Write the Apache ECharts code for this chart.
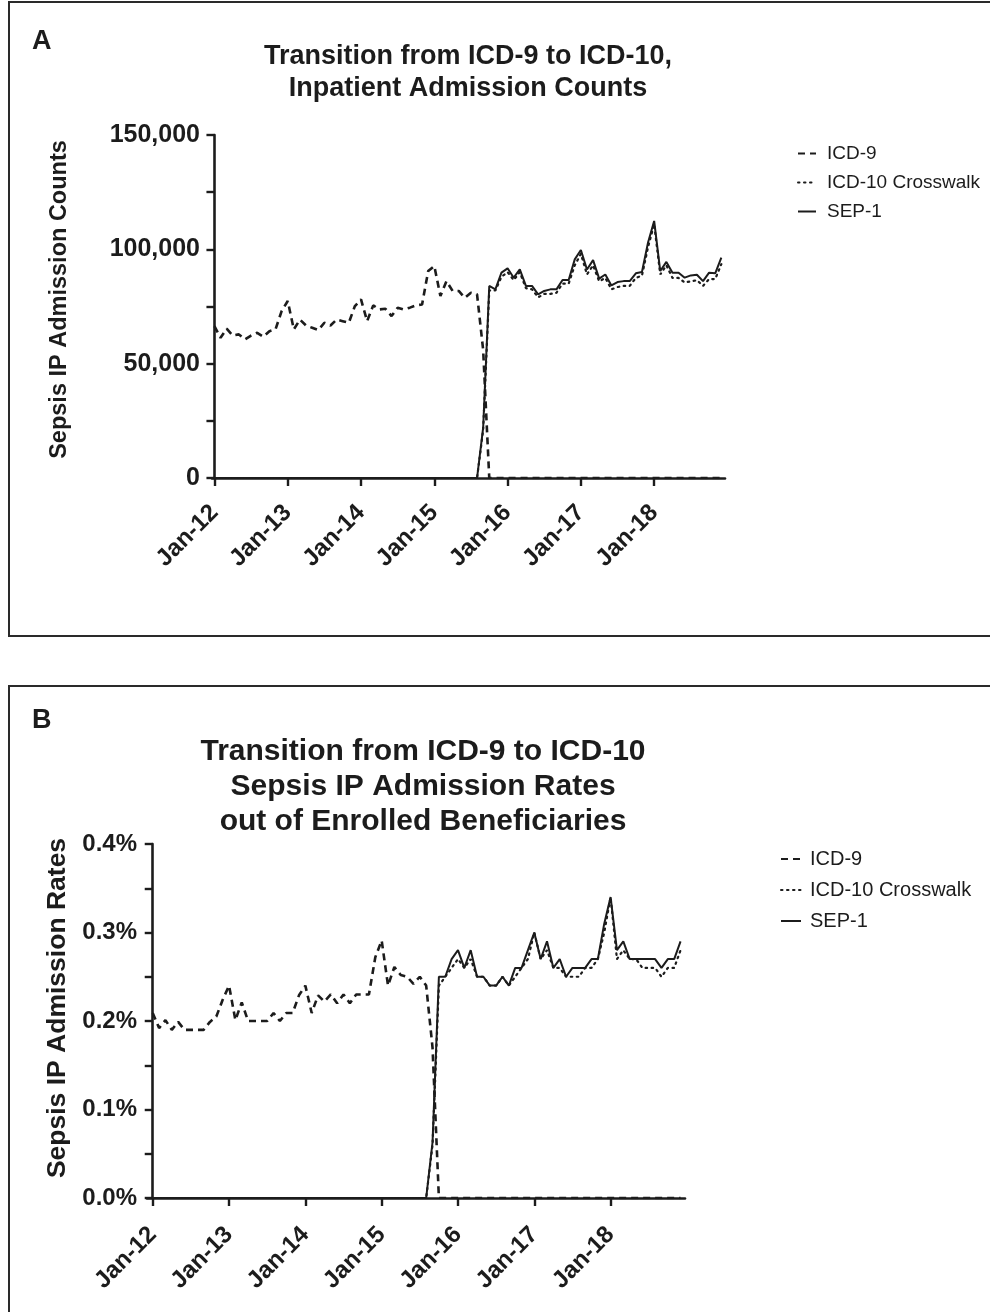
<!DOCTYPE html>
<html>
<head>
<meta charset="utf-8">
<script src="https://cdn.jsdelivr.net/npm/echarts@6/dist/echarts.min.js"></script>
<style>
html,body{margin:0;padding:0;background:#fff;}
#chart{width:990px;height:1312px;}
</style>
</head>
<body>
<div id="chart"></div>
<script>
// ---- Data (monthly, Jan-12 .. Dec-18; index 0 = Jan-12) ----
const tickMonths = [0, 12, 24, 36, 48, 60, 72];
const tickLabels = ['Jan-12', 'Jan-13', 'Jan-14', 'Jan-15', 'Jan-16', 'Jan-17', 'Jan-18'];
const seriesNames = ['ICD-9', 'ICD-10 Crosswalk', 'SEP-1'];

// Panel A: Sepsis IP admission counts
const countsICD9 = [
  66400, 61300, 65300, 62300, 62800, 60600, 62300, 63500, 61800, 64200, 65000, 73000,
  77400, 65000, 69300, 66700, 65700, 64700, 67900, 66700, 69300, 68600, 67900, 75200,
  78100, 68600, 75500, 73700, 74000, 70800, 74500, 73700, 74500, 75500, 75900, 90500,
  92700, 79600, 86100, 81800, 81800, 78800, 81000, 80300, 56000, 0, 0, 0,
  0, 0, 0, 0, 0, 0, 0, 0, 0, 0, 0, 0,
  0, 0, 0, 0, 0, 0, 0, 0, 0, 0, 0, 0,
  0, 0, 0, 0, 0, 0, 0, 0, 0, 0, 0, 0
];
const countsCrosswalk = [
  0, 0, 0, 0, 0, 0, 0, 0, 0, 0, 0, 0,
  0, 0, 0, 0, 0, 0, 0, 0, 0, 0, 0, 0,
  0, 0, 0, 0, 0, 0, 0, 0, 0, 0, 0, 0,
  0, 0, 0, 0, 0, 0, 0, 0, 21000, 82000, 82000, 88000,
  90000, 86500, 90000, 83000, 82500, 79000, 80500, 80500, 81000, 85000, 85000, 93000,
  98000, 89000, 93000, 86000, 87500, 82500, 83500, 84000, 84000, 87500, 88500, 101000,
  111000, 89000, 93000, 87500, 87500, 85500, 86000, 86500, 84000, 87000, 87000, 93500
];
const countsSEP1 = [
  0, 0, 0, 0, 0, 0, 0, 0, 0, 0, 0, 0,
  0, 0, 0, 0, 0, 0, 0, 0, 0, 0, 0, 0,
  0, 0, 0, 0, 0, 0, 0, 0, 0, 0, 0, 0,
  0, 0, 0, 0, 0, 0, 0, 0, 22000, 84000, 82500, 89800,
  91700, 87600, 91200, 84000, 84000, 80300, 81800, 82500, 82500, 86600, 86600, 95600,
  99700, 91200, 95300, 87200, 89000, 84200, 85700, 86100, 86100, 89500, 90100, 103000,
  112400, 90500, 94500, 89800, 89800, 87600, 88600, 88900, 86100, 89800, 89500, 96400
];

// Panel B: Sepsis IP admission rates (% of enrolled beneficiaries)
const ratesICD9 = [
  0.209, 0.192, 0.201, 0.190, 0.199, 0.190, 0.190, 0.190, 0.190, 0.199, 0.205, 0.224,
  0.240, 0.201, 0.221, 0.200, 0.200, 0.200, 0.200, 0.209, 0.200, 0.209, 0.209, 0.229,
  0.240, 0.209, 0.229, 0.222, 0.230, 0.220, 0.230, 0.220, 0.230, 0.230, 0.230, 0.272,
  0.291, 0.240, 0.261, 0.252, 0.250, 0.242, 0.250, 0.240, 0.170, 0, 0, 0,
  0, 0, 0, 0, 0, 0, 0, 0, 0, 0, 0, 0,
  0, 0, 0, 0, 0, 0, 0, 0, 0, 0, 0, 0,
  0, 0, 0, 0, 0, 0, 0, 0, 0, 0, 0, 0
];
const ratesCrosswalk = [
  0, 0, 0, 0, 0, 0, 0, 0, 0, 0, 0, 0,
  0, 0, 0, 0, 0, 0, 0, 0, 0, 0, 0, 0,
  0, 0, 0, 0, 0, 0, 0, 0, 0, 0, 0, 0,
  0, 0, 0, 0, 0, 0, 0, 0, 0.06, 0.24, 0.25, 0.26,
  0.27, 0.26, 0.27, 0.25, 0.25, 0.24, 0.24, 0.25, 0.24, 0.25, 0.26, 0.27,
  0.30, 0.27, 0.28, 0.26, 0.26, 0.25, 0.25, 0.25, 0.26, 0.26, 0.27, 0.30,
  0.34, 0.27, 0.28, 0.27, 0.27, 0.26, 0.26, 0.26, 0.25, 0.26, 0.26, 0.28
];
const ratesSEP1 = [
  0, 0, 0, 0, 0, 0, 0, 0, 0, 0, 0, 0,
  0, 0, 0, 0, 0, 0, 0, 0, 0, 0, 0, 0,
  0, 0, 0, 0, 0, 0, 0, 0, 0, 0, 0, 0,
  0, 0, 0, 0, 0, 0, 0, 0, 0.063, 0.25, 0.25, 0.27,
  0.28, 0.26, 0.28, 0.25, 0.25, 0.24, 0.24, 0.25, 0.24, 0.26, 0.26, 0.28,
  0.30, 0.27, 0.29, 0.26, 0.27, 0.25, 0.26, 0.26, 0.26, 0.27, 0.27, 0.31,
  0.34, 0.28, 0.29, 0.27, 0.27, 0.27, 0.27, 0.27, 0.26, 0.27, 0.27, 0.29
];

// ---- Chart ----
const FONT = '"Liberation Sans", Arial, Helvetica, sans-serif';
const INK = '#1c1c1c';
const chart = echarts.init(document.getElementById('chart'), null, { renderer: 'canvas' });

const toPairs = arr => arr.map((v, i) => [i, v]);

const lineStyles = [
  { color: INK, width: 2.6, type: [7, 5] },
  { color: INK, width: 2.2, type: [1.5, 4.5], cap: 'round' },
  { color: INK, width: 2.0, type: 'solid' }
];

function makeSeries(dataArrs, xi, yi) {
  return dataArrs.map((arr, k) => ({
    name: seriesNames[k],
    type: 'line',
    xAxisIndex: xi,
    yAxisIndex: yi,
    data: toPairs(arr),
    symbol: 'none',
    lineStyle: lineStyles[k],
    itemStyle: { color: INK },
    z: k === 0 ? 3 : (k === 1 ? 4 : 2),
    animation: false
  }));
}

function xAxis(gi, min, max, margin) {
  return {
    type: 'value',
    gridIndex: gi,
    min: min,
    max: max,
    axisLine: { show: true, onZero: false, lineStyle: { color: INK, width: 2.6 } },
    axisTick: { show: true, customValues: tickMonths, length: 8, lineStyle: { color: INK, width: 2.4 } },
    axisLabel: {
      show: true,
      customValues: tickMonths,
      formatter: v => tickLabels[tickMonths.indexOf(v)] || '',
      rotate: 45,
      margin: margin,
      color: INK,
      fontFamily: FONT,
      fontWeight: 'bold',
      fontSize: 24
    },
    splitLine: { show: false }
  };
}

const legendBase = {
  data: seriesNames,
  orient: 'vertical',
  itemHeight: 12,
  itemStyle: { opacity: 0 },
  selectedMode: false
};

const option = {
  backgroundColor: '#ffffff',
  animation: false,
  graphic: [
    { type: 'rect', shape: { x: 9, y: 2, width: 1000, height: 634 }, style: { fill: 'none', stroke: '#2a2a2a', lineWidth: 2 }, z: 0 },
    { type: 'rect', shape: { x: 9, y: 686, width: 1000, height: 700 }, style: { fill: 'none', stroke: '#2a2a2a', lineWidth: 2 }, z: 0 },
    { type: 'text', style: { text: 'A', x: 32, y: 42, verticalAlign: 'middle', font: 'bold 27px ' + FONT, fill: INK } },
    { type: 'text', style: { text: 'B', x: 32, y: 721, verticalAlign: 'middle', font: 'bold 27px ' + FONT, fill: INK } },
    { type: 'text', style: { text: 'Transition from ICD-9 to ICD-10,\nInpatient Admission Counts', x: 468, y: 73, align: 'center', verticalAlign: 'middle', lineHeight: 32, font: 'bold 27px ' + FONT, fill: INK } },
    { type: 'text', style: { text: 'Transition from ICD-9 to ICD-10\nSepsis IP Admission Rates\nout of Enrolled Beneficiaries', x: 423, y: 787, align: 'center', verticalAlign: 'middle', lineHeight: 35, font: 'bold 30px ' + FONT, fill: INK } }
  ],
  legend: [
    Object.assign({}, legendBase, {
      left: 792,
      top: 139,
      itemWidth: 18,
      itemGap: 10,
      textStyle: { color: INK, fontFamily: FONT, fontSize: 19, padding: [0, 0, 0, 6] }
    }),
    Object.assign({}, legendBase, {
      left: 775,
      top: 844,
      itemWidth: 20,
      itemGap: 11,
      textStyle: { color: INK, fontFamily: FONT, fontSize: 20, padding: [0, 0, 0, 4] }
    })
  ],
  grid: [
    { left: 212, top: 135, width: 513, height: 343, containLabel: false },
    { left: 147, top: 844, width: 538, height: 354, containLabel: false }
  ],
  xAxis: [
    xAxis(0, -0.4, 83.6, 31),
    xAxis(1, -0.9, 83.7, 33)
  ],
  yAxis: [
    {
      type: 'value', gridIndex: 0, min: 0, max: 150000, interval: 25000,
      name: 'Sepsis IP Admission Counts', nameLocation: 'middle', nameGap: 140, nameRotate: 90,
      nameTextStyle: { color: INK, fontFamily: FONT, fontWeight: 'bold', fontSize: 23.5, padding: [0, 0, 0, 14] },
      axisLine: { show: true, lineStyle: { color: INK, width: 2.6 } },
      axisTick: { show: true, length: 8, lineStyle: { color: INK, width: 2.4 } },
      axisLabel: {
        color: INK, fontFamily: FONT, fontWeight: 'bold', fontSize: 25, margin: 12,
        formatter: v => (v % 50000 === 0 ? v.toLocaleString('en-US') : '')
      },
      splitLine: { show: false }
    },
    {
      type: 'value', gridIndex: 1, min: 0, max: 0.4, interval: 0.05,
      name: 'Sepsis IP Admission Rates', nameLocation: 'middle', nameGap: 74, nameRotate: 90,
      nameTextStyle: { color: INK, fontFamily: FONT, fontWeight: 'bold', fontSize: 26.5, padding: [0, 0, 0, 26] },
      axisLine: { show: true, lineStyle: { color: INK, width: 2.6 } },
      axisTick: { show: true, length: 8, lineStyle: { color: INK, width: 2.4 } },
      axisLabel: {
        color: INK, fontFamily: FONT, fontWeight: 'bold', fontSize: 24, margin: 10,
        formatter: v => (Math.abs(v * 10 - Math.round(v * 10)) < 1e-6 ? v.toFixed(1) + '%' : '')
      },
      splitLine: { show: false }
    }
  ],
  series: [
    ...makeSeries([countsICD9, countsCrosswalk, countsSEP1], 0, 0),
    ...makeSeries([ratesICD9, ratesCrosswalk, ratesSEP1], 1, 1)
  ]
};
chart.setOption(option);
</script>
</body>
</html>
